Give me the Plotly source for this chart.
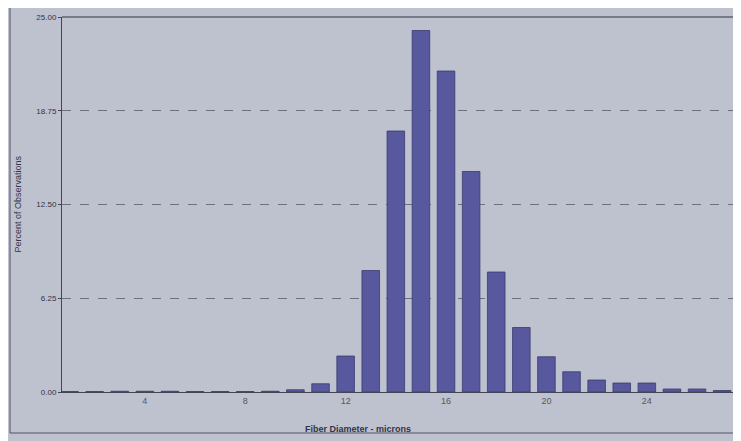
import plotly.graph_objects as go

diameters = list(range(1, 28))
percents = [0.03, 0.03, 0.05, 0.05, 0.05, 0.03, 0.03, 0.03, 0.05, 0.15, 0.55,
            2.4, 8.1, 17.4, 24.1, 21.4, 14.7, 8.0, 4.3, 2.35, 1.35,
            0.8, 0.6, 0.6, 0.2, 0.2, 0.1]
y_ticks = [0, 6.25, 12.5, 18.75, 25]
y_tick_labels = ["0.00", "6.25", "12.50", "18.75", "25.00"]
x_ticks = [4, 8, 12, 16, 20, 24]
x_tick_labels = ["4", "8", "12", "16", "20", "24"]

bg = "#bec2cf"
fig = go.Figure()
fig.add_trace(go.Bar(
    x=diameters, y=percents, width=0.7,
    marker=dict(color="#58589e", line=dict(color="#3a3a6e", width=0.8)),
))

pw = 687  # plot width in px (extends past the visible window edge)
fig.update_layout(
    width=741, height=433,
    margin=dict(l=54, r=0, t=9, b=49),
    paper_bgcolor=bg, plot_bgcolor=bg,
    showlegend=False,
    font=dict(family="Liberation Sans", color="#333344", size=9),
    xaxis=dict(range=[0.7, 28.07], tickvals=x_ticks, ticktext=x_tick_labels,
               showgrid=False, zeroline=False, showline=True,
               linecolor="#444455", linewidth=1, ticks="",
               tickfont=dict(size=9, color="#555566")),
    yaxis=dict(range=[0, 25], tickvals=y_ticks, ticktext=y_tick_labels,
               showgrid=True, gridcolor="#6e7080", griddash="dash", gridwidth=1,
               zeroline=False, showline=True, linecolor="#444455", linewidth=1,
               mirror=False, ticks="outside", ticklen=3, tickcolor="#444455",
               tickfont=dict(size=8, color="#333344")),
    shapes=[
        dict(type="line", xref="paper", yref="paper", x0=0, x1=1, y0=1, y1=1,
             line=dict(color="#333344", width=1.2)),
        dict(type="rect", xref="paper", yref="paper",
             x0=-52/pw, x1=1.01, y0=-41/375, y1=1+12/375,
             line=dict(color="#555566", width=1)),
    ],
    annotations=[
        dict(text="Percent of Observations", xref="paper", yref="paper",
             x=-45/pw, y=0.5, textangle=-90, showarrow=False,
             font=dict(size=9, color="#333344"), xanchor="center", yanchor="middle"),
        dict(text="<b>Fiber Diameter - microns</b>", xref="paper", yref="paper",
             x=(358-62)/pw, y=-37/375, showarrow=False,
             font=dict(size=9, color="#333344"), xanchor="center", yanchor="middle"),
    ],
)

fig.write_html("out.html")
